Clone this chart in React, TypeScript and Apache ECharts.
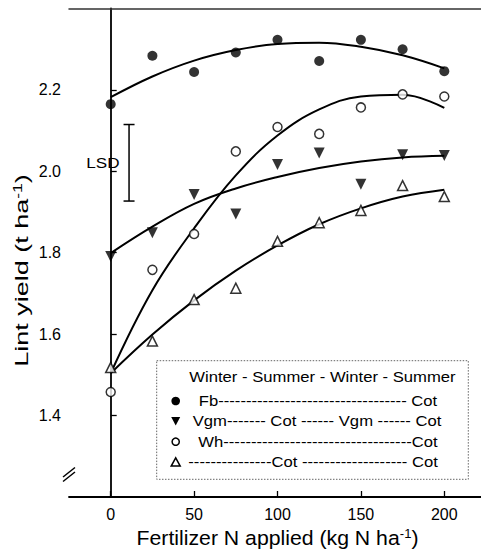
import React, { useEffect, useRef } from 'react';
import * as echarts from 'echarts';

const nLevels = [0, 25, 50, 75, 100, 125, 150, 175, 200];
const fbObs = [2.165, 2.284, 2.244, 2.292, 2.323, 2.271, 2.323, 2.3, 2.246];
const vgmObs = [1.791, 1.849, 1.943, 1.895, 2.017, 2.045, 1.968, 2.041, 2.039];
const whObs = [1.458, 1.758, 1.846, 2.049, 2.109, 2.092, 2.157, 2.189, 2.184];
const cotObs = [1.518, 1.583, 1.685, 1.713, 1.828, 1.874, 1.904, 1.965, 1.938];
const fbFit = [2.182, 2.233, 2.272, 2.298, 2.313, 2.316, 2.306, 2.285, 2.253];
const vgmFit = [1.799, 1.864, 1.92, 1.958, 1.986, 2.008, 2.024, 2.034, 2.038];
const whFit = [1.504, 1.708, 1.86, 1.99, 2.088, 2.152, 2.184, 2.188, 2.156];
const cotFit = [1.504, 1.599, 1.683, 1.756, 1.818, 1.87, 1.909, 1.938, 1.955];
const xTicks = [0, 50, 100, 150, 200];
const yTicks = [1.4, 1.6, 1.8, 2.0, 2.2];
const lsdX = 11;
const lsdTop = 2.115;
const lsdBottom = 1.927;
const legendHeader = 'Winter - Summer - Winter - Summer';
const legendRows = [
  'Fb' + '-'.repeat(34) + ' Cot',
  'Vgm' + '-'.repeat(7) + ' Cot ' + '-'.repeat(6) + ' Vgm ' + '-'.repeat(6) + ' Cot',
  'Wh' + '-'.repeat(34) + 'Cot',
  '-'.repeat(15) + 'Cot ' + '-'.repeat(19) + ' Cot',
];

const FONT = '"Liberation Sans", Arial, Helvetica, sans-serif';

const pairs = (ys: number[]) => nLevels.map((x, i) => [x, ys[i]]);

export default function App() {
  const ref = useRef<HTMLDivElement>(null);
  useEffect(() => {
    if (!ref.current) return;
    const chart = echarts.init(ref.current, null, { renderer: 'svg' });
    const black = '#000';
    const lineSeries = (data: number[]) => ({
      type: 'line',
      data: pairs(data),
      smooth: 0.4,
      showSymbol: false,
      symbol: 'none',
      lineStyle: { color: black, width: 2 },
      z: 2,
      silent: true,
    });
    const legendStartX = [198.8, 192.7, 198.3, 188.3];
    const legendY = [401, 421, 441.7, 462.3];
    const sx = 1.19;
    const legendText = (text: string, x: number, y: number) => ({
      type: 'text',
      x,
      y,
      scaleX: sx,
      style: { text, fill: black, font: `14px ${FONT}`, align: 'left', verticalAlign: 'middle' },
    });
    const symX = 175.7;
    const option: any = {
      animation: false,
      grid: { left: 69, right: 0, top: 8.5, bottom: 53, containLabel: false },
      xAxis: [
        {
          type: 'value',
          min: -25,
          max: 222,
          axisLine: { show: true, lineStyle: { color: black, width: 1.8 } },
          axisTick: { show: true, inside: true, length: 6, lineStyle: { color: black, width: 1.3 }, customValues: xTicks },
          axisLabel: { customValues: xTicks, fontSize: 16, fontFamily: FONT, color: black, margin: 9 },
          splitLine: { show: false },
        },
        {
          type: 'value',
          position: 'top',
          min: -25,
          max: 222,
          axisLine: { show: true, onZero: false, lineStyle: { color: '#333', width: 1.5 } },
          axisTick: { show: false },
          axisLabel: { show: false },
          splitLine: { show: false },
        },
      ],
      yAxis: {
        type: 'value',
        min: 1.2,
        max: 2.4,
        axisLine: { show: true, lineStyle: { color: black, width: 1.8 } },
        axisTick: { show: true, inside: true, length: 6, lineStyle: { color: black, width: 1.3 }, customValues: yTicks },
        axisLabel: {
          customValues: yTicks,
          fontSize: 16,
          fontFamily: FONT,
          color: black,
          margin: 8,
          formatter: (v: number) => v.toFixed(1),
        },
        splitLine: { show: false },
      },
      series: [
        lineSeries(fbFit),
        lineSeries(vgmFit),
        lineSeries(whFit),
        lineSeries(cotFit),
        {
          type: 'scatter',
          data: pairs(fbObs),
          symbol: 'circle',
          symbolSize: 10,
          itemStyle: { color: black },
          z: 3,
        },
        {
          type: 'scatter',
          data: pairs(vgmObs),
          symbol: 'triangle',
          symbolRotate: 180,
          symbolSize: 11,
          itemStyle: { color: black },
          z: 3,
        },
        {
          type: 'scatter',
          data: pairs(whObs),
          symbol: 'circle',
          symbolSize: 9,
          itemStyle: { color: '#fff', borderColor: black, borderWidth: 1.5 },
          z: 3,
        },
        {
          type: 'scatter',
          data: pairs(cotObs),
          symbol: 'triangle',
          symbolSize: 10,
          itemStyle: { color: '#fff', borderColor: black, borderWidth: 1.5 },
          z: 3,
        },
        {
          type: 'custom',
          data: [[lsdX, lsdTop, lsdBottom]],
          z: 3,
          silent: true,
          renderItem: (_params: any, api: any) => {
            const top = api.coord([api.value(0), api.value(1)]);
            const bot = api.coord([api.value(0), api.value(2)]);
            const cap = 5.5;
            const st = { stroke: black, lineWidth: 1.5 };
            return {
              type: 'group',
              children: [
                { type: 'line', shape: { x1: top[0], y1: top[1], x2: bot[0], y2: bot[1] }, style: st },
                { type: 'line', shape: { x1: top[0] - cap, y1: top[1], x2: top[0] + cap, y2: top[1] }, style: st },
                { type: 'line', shape: { x1: bot[0] - cap, y1: bot[1], x2: bot[0] + cap, y2: bot[1] }, style: st },
                {
                  type: 'text',
                  x: top[0] - 9.5,
                  y: (top[1] + bot[1]) / 2,
                  scaleX: 1.22,
                  style: { text: 'LSD', fill: black, font: `14px ${FONT}`, align: 'right', verticalAlign: 'middle' },
                },
              ],
            };
          },
        },
      ],
      graphic: [
        // axis break
        { type: 'rect', shape: { x: 65, y: 469, width: 8, height: 11 }, style: { fill: '#fff' }, z: 100 },
        { type: 'line', shape: { x1: 63, y1: 477, x2: 75, y2: 467.5 }, style: { stroke: black, lineWidth: 1.5 }, z: 101 },
        { type: 'line', shape: { x1: 63, y1: 481.5, x2: 75, y2: 472 }, style: { stroke: black, lineWidth: 1.5 }, z: 101 },
        // legend box
        {
          type: 'rect',
          shape: { x: 156.7, y: 360.7, width: 311.6, height: 118.6 },
          style: { fill: 'none', stroke: '#666', lineWidth: 1, lineDash: [1.5, 1.5] },
          z: 50,
        },
        { ...legendText(legendHeader, 189.3, 376.7), z: 51 },
        ...legendRows.map((t, i) => ({ ...legendText(t, legendStartX[i], legendY[i]), z: 51 })),
        { type: 'circle', shape: { cx: symX, cy: legendY[0], r: 4.3 }, style: { fill: black }, z: 51 },
        {
          type: 'polygon',
          shape: { points: [[symX - 4.5, legendY[1] - 4], [symX + 4.5, legendY[1] - 4], [symX, legendY[1] + 4.5]] },
          style: { fill: black },
          z: 51,
        },
        { type: 'circle', shape: { cx: symX, cy: legendY[2], r: 3.6 }, style: { fill: '#fff', stroke: black, lineWidth: 1.5 }, z: 51 },
        {
          type: 'polygon',
          shape: { points: [[symX - 4.5, legendY[3] + 3.8], [symX + 4.5, legendY[3] + 3.8], [symX, legendY[3] - 4.5]] },
          style: { fill: '#fff', stroke: black, lineWidth: 1.5 },
          z: 51,
        },
        // axis titles
        {
          type: 'text',
          x: 277.5,
          y: 538,
          scaleX: 1.09,
          style: {
            text: 'Fertilizer N applied (kg N ha{sup|-1})',
            fill: black,
            font: `19.5px ${FONT}`,
            align: 'center',
            verticalAlign: 'middle',
            rich: { sup: { fontSize: 12, fontFamily: FONT, fill: black, verticalAlign: 'top', lineHeight: 12 } },
          },
          z: 51,
        },
        {
          type: 'text',
          x: 21.5,
          y: 270.5,
          rotation: Math.PI / 2,
          scaleX: 1.46,
          style: {
            text: 'Lint yield (t ha{sup|-1})',
            fill: black,
            font: `18.5px ${FONT}`,
            align: 'center',
            verticalAlign: 'middle',
            rich: { sup: { fontSize: 12, fontFamily: FONT, fill: black, verticalAlign: 'top', lineHeight: 12 } },
          },
          z: 51,
        },
      ],
    };
    chart.setOption(option);
    return () => chart.dispose();
  }, []);
  return <div ref={ref} style={{ width: 481, height: 550, position: 'absolute', left: 0, top: 0, background: '#fff' }} />;
}
